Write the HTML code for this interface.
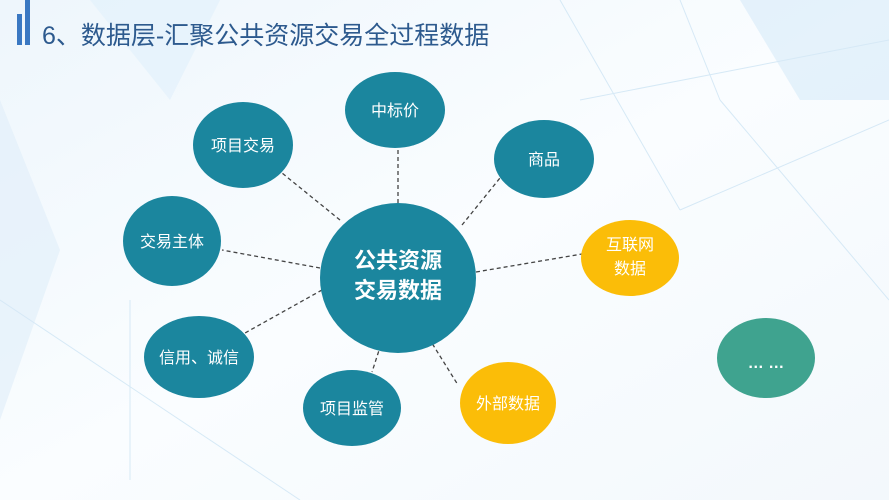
<!DOCTYPE html>
<html><head><meta charset="utf-8"><style>
body{margin:0;width:889px;height:500px;overflow:hidden;background:#fff;font-family:"Liberation Sans","Noto Sans CJK SC",sans-serif}
</style></head><body>
<svg width="889" height="500" xmlns="http://www.w3.org/2000/svg" style="position:absolute;left:0;top:0">
<defs><linearGradient id="bg" x1="0" y1="0" x2="1" y2="1"><stop offset="0" stop-color="#eef6fc"/><stop offset="0.5" stop-color="#fafdff"/><stop offset="1" stop-color="#f3f8fc"/></linearGradient></defs>
<rect width="889" height="500" fill="url(#bg)"/>
<polygon points="90,0 220,0 170,100" fill="#e3f1fb" opacity="0.7"/>
<polygon points="740,0 889,0 889,100 800,100" fill="#dcedf9" opacity="0.7"/>
<polygon points="0,100 60,250 0,420" fill="#e3f0fa" opacity="0.7"/>
<g stroke="#d6e9f6" stroke-width="1" fill="none">
<line x1="580" y1="100" x2="889" y2="40"/><line x1="720" y1="100" x2="680" y2="0"/><line x1="720" y1="100" x2="889" y2="300"/>
<line x1="680" y1="210" x2="889" y2="120"/><line x1="680" y1="210" x2="560" y2="0"/><line x1="130" y1="480" x2="130" y2="300"/>
<line x1="0" y1="300" x2="300" y2="500"/></g>
<rect x="17" y="14" width="5" height="31" fill="#3a78c2"/>
<rect x="25" y="0" width="5" height="45" fill="#3a78c2"/>
<text x="42" y="44" font-size="25" fill="#2d5a8e">6、数据层-汇聚公共资源交易全过程数据</text>
<g stroke="#444" stroke-width="1.3" stroke-dasharray="4,3">
<line x1="398" y1="203" x2="398" y2="148"/>
<line x1="340" y1="220" x2="282" y2="173"/>
<line x1="462" y1="225" x2="500" y2="178"/>
<line x1="320" y1="268" x2="222" y2="250"/>
<line x1="476" y1="272" x2="582" y2="254"/>
<line x1="322" y1="290" x2="245" y2="333"/>
<line x1="383" y1="338" x2="372" y2="372"/>
<line x1="425" y1="332" x2="458" y2="385"/>
</g>
<g fill="#1b869e">
<ellipse cx="398" cy="278" rx="78" ry="75"/>
<ellipse cx="395" cy="110" rx="50" ry="38"/>
<ellipse cx="243" cy="145" rx="50" ry="43"/>
<ellipse cx="544" cy="159" rx="50" ry="39"/>
<ellipse cx="172" cy="241" rx="49" ry="45"/>
<ellipse cx="199" cy="357" rx="55" ry="41"/>
<ellipse cx="352" cy="408" rx="49" ry="38"/>
</g>
<ellipse cx="630" cy="258" rx="49" ry="38" fill="#fbbd08"/>
<ellipse cx="508" cy="403" rx="48" ry="41" fill="#fbbd08"/>
<ellipse cx="766" cy="358" rx="49" ry="40" fill="#3fa38f"/>
<g fill="#fff" font-size="16" text-anchor="middle">
<text x="395" y="116">中标价</text>
<text x="243" y="151">项目交易</text>
<text x="544" y="165">商品</text>
<text x="172" y="247">交易主体</text>
<text x="199" y="363">信用、诚信</text>
<text x="352" y="414">项目监管</text>
<text x="630" y="250">互联网</text>
<text x="630" y="274">数据</text>
<text x="508" y="409">外部数据</text>
<text x="766" y="368" font-weight="bold">… …</text>
<text x="398" y="268" font-size="22" font-weight="bold">公共资源</text>
<text x="398" y="298" font-size="22" font-weight="bold">交易数据</text>
</g>
</svg>
</body></html>
